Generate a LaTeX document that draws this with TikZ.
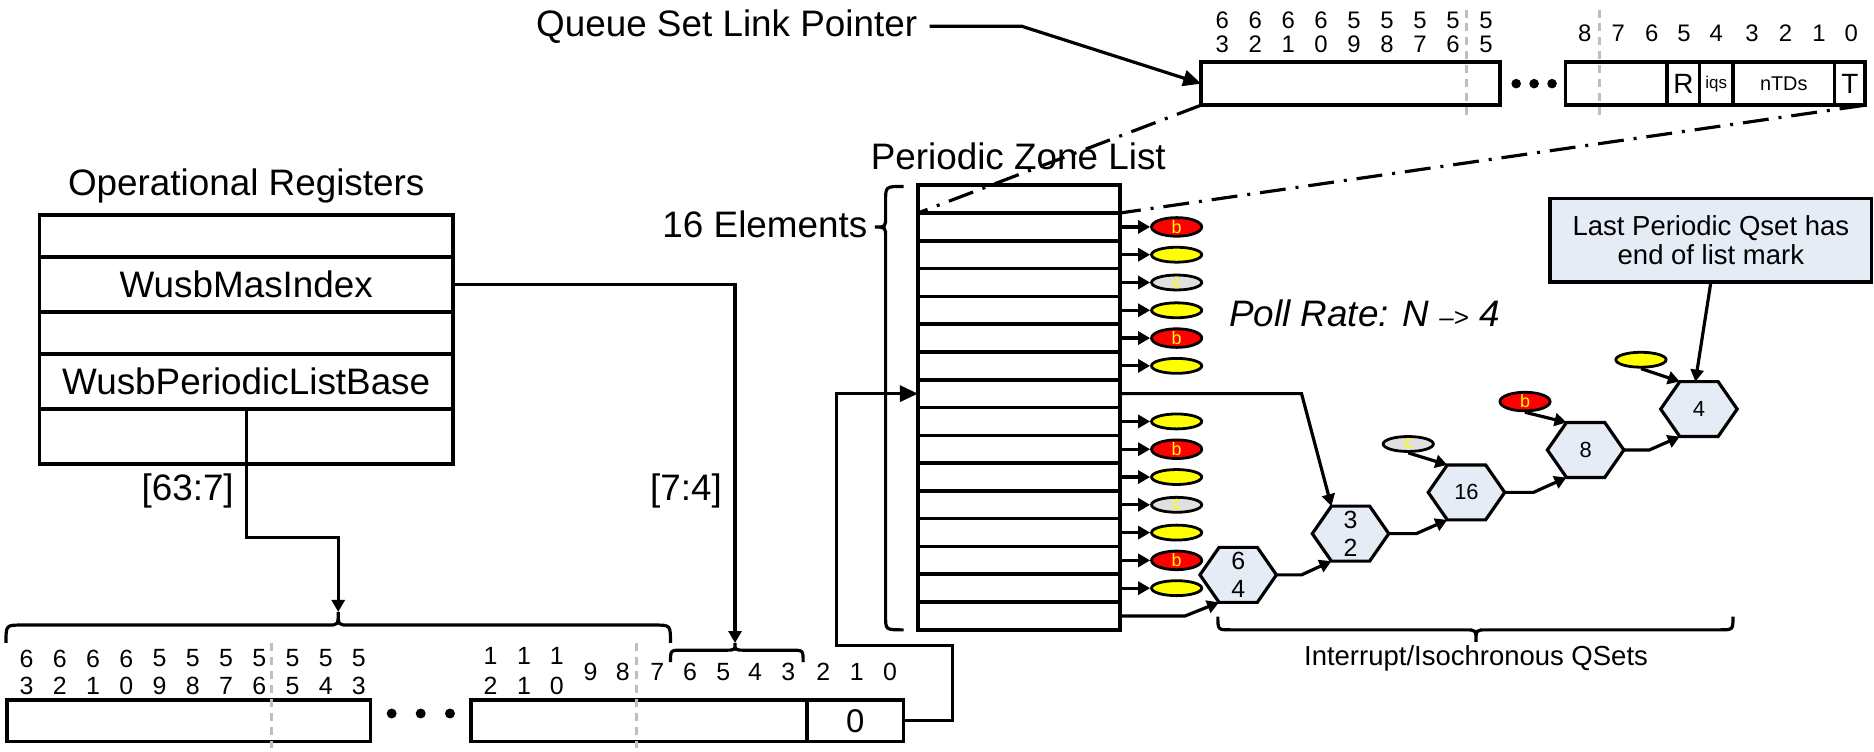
\documentclass[tikz,border=0pt]{standalone}
\usepackage{fontspec}
\setmainfont{Liberation Sans}
\usetikzlibrary{shapes.geometric,arrows.meta,calc}
\definecolor{hexblue}{RGB}{230,236,246}
\definecolor{ylw}{RGB}{255,255,0}
\definecolor{rd}{RGB}{255,0,0}
\definecolor{lgray}{RGB}{224,224,224}
\definecolor{dgray}{RGB}{190,190,190}
\newcommand\fsz[2]{\fontsize{#1}{#2}\selectfont}
\newcommand\hexa[5]{%
  \filldraw[hexst] ({#2-16},{#3-23}) -- ({#2+16},{#3-23}) -- ({#2+32},#3) -- ({#2+16},{#3+23}) -- ({#2-16},{#3+23}) -- ({#2-32},#3) -- cycle;
  \node[align=center, font=#5, inner sep=0pt] (#1) at (#2,#3) {#4};
  \coordinate (#1-l) at ({#2-32},#3);
  \coordinate (#1-r) at ({#2+32},#3);
  \coordinate (#1-tl) at ({#2-16},{#3-23});
  \coordinate (#1-bl) at ({#2-16},{#3+23});
  \coordinate (#1-t) at ({#2-3},{#3-23});
}
\begin{document}
\begin{tikzpicture}[x=0.6pt,y=-0.6pt,
  ln/.style={line width=1.6pt},
  bx/.style={draw, line width=1.8pt, inner sep=0pt, outer sep=0pt},
  arr/.style={line width=1.6pt, -{Triangle[length=6pt,width=6.5pt]}},
  bigarr/.style={line width=1.6pt, -{Triangle[length=9pt,width=8pt]}},
  lbl/.style={inner sep=0pt, font=\fsz{18.5}{21}},
  ell/.style={ellipse, draw, line width=1.4pt, minimum width=25.2pt, minimum height=7.5pt, inner sep=0pt, font=\fsz{9}{9}, text=ylw},
  ey/.style={ell, fill=ylw},
  eb/.style={ell, fill=rd},
  ec/.style={ell, fill=lgray},
  gdash/.style={draw=dgray, line width=1.4pt, dash pattern=on 4pt off 3pt},
  dashdot/.style={line width=1.6pt, dash pattern=on 13pt off 5pt on 1.5pt off 5pt},
  hexst/.style={fill=hexblue, draw, line width=1.6pt},
  bitt/.style={inner sep=0pt, font=\fsz{12}{12}},
  bitb/.style={inner sep=0pt, font=\fsz{12.5}{12.5}},
]
\useasboundingbox (0,0) rectangle (1568,629);

% ---------- Operational registers ----------
\node[lbl] (optitle) at (206,156) {Operational Registers};
\node[bx, minimum width=207.6pt, minimum height=21pt] (op0) at (206,197.5) {};
\node[bx, minimum width=207.6pt, minimum height=27.6pt, font=\fsz{18.5}{21}] (mas) at (206,238) {WusbMasIndex};
\node[bx, minimum width=207.6pt, minimum height=21pt] (op2) at (206,278.5) {};
\node[bx, minimum width=207.6pt, minimum height=27.6pt, font=\fsz{18.5}{21}] (plb) at (206,319) {WusbPeriodicListBase};
\node[bx, minimum width=207.6pt, minimum height=27.6pt] (op4) at (206,365) {};

\node[lbl] (l637) at (157,411) {[63:7]};
\node[lbl] (l74) at (574,411) {[7:4]};

% ---------- bottom address register ----------
\node[bx, minimum width=182.6pt, minimum height=20.9pt] (bb1) at (157.8,603.1) {};
\node[bx, minimum width=168.6pt, minimum height=20.9pt] (bb2) at (534.5,603.1) {};
\node[bx, minimum width=48.6pt, minimum height=20.9pt, font=\fsz{16.5}{16.5}] (zero) at (715.5,603.1) {0};
\foreach \x in {327.7,352,376.5} \fill (\x,597) circle (2.5pt);

\draw[gdash] (227.3,538) -- (227.3,626);
\draw[gdash] (532.7,538) -- (532.7,626);

\foreach \t [count=\k from 0] in {6,6,6,6,5,5,5,5,5,5,5}
  \node[bitb] at ({22.3+27.8*\k},551) {\t};
\foreach \t [count=\k from 0] in {3,2,1,0,9,8,7,6,5,4,3}
  \node[bitb] at ({22.3+27.8*\k},574) {\t};
\foreach \x/\a/\b in {410.5/1/2,438.4/1/1,465.8/1/0} {
  \node[bitb] at (\x,549) {\a};
  \node[bitb] at (\x,574) {\b};
}
\foreach \x/\t in {494.2/9,521/8,550/7,577.3/6,605.2/5,631.7/4,659.6/3,688.9/2,716.8/1,744.6/0}
  \node[bitb] at (\x,562) {\t};

% braces
\coordinate (bigtip) at (283,512);
\coordinate (smalltip) at (615,538);
\draw[ln] (5,538) .. controls (5,523) .. (18,523) -- (274,523) .. controls (283,523) .. (bigtip)
  .. controls (283,523) .. (292,523) -- (548,523) .. controls (561,523) .. (561,538);
\draw[ln] (561,554) .. controls (561,544) .. (571,544) -- (607,544) .. controls (615,544) .. (smalltip)
  .. controls (615,544) .. (623,544) -- (662,544) .. controls (672,544) .. (672,554);

\draw[arr] (plb.south) -- (206,450) -- (283,450) -- (bigtip);
\draw[arr] (mas.east) -- (615,238) -- (smalltip);

% ---------- Queue set link pointer ----------
\node[lbl, inner xsep=6pt] (qslp) at (608,22) {Queue Set Link Pointer};
\node[bx, minimum width=150pt, minimum height=21.6pt] (qhi) at (1130,70) {};
\draw[bigarr] (qslp.east) -- (855,22) -- (qhi.west);
\node[bx, minimum width=150.4pt, minimum height=21.6pt] (qlo) at (1435.3,70) {};
\node[bx, minimum width=16.2pt, minimum height=21.6pt, font=\fsz{14}{14}] (qR) at (1408.5,70) {R};
\node[bx, minimum width=16.8pt, minimum height=21.6pt, font=\fsz{8.5}{8.5}] (qiqs) at (1436,70) {iqs};
\node[bx, minimum width=51pt, minimum height=21.6pt, font=\fsz{10}{10}] (qntd) at (1492.5,70) {nTDs};
\node[bx, minimum width=15.4pt, minimum height=21.6pt, font=\fsz{14}{14}] (qT) at (1547.8,70) {T};
\foreach \x in {1268.6,1283.6,1298.6} \fill (\x,70) circle (2.4pt);

\draw[gdash] (1227,8) -- (1227,100);
\draw[gdash] (1338,8) -- (1338,100);
\foreach \t [count=\k from 0] in {6,6,6,6,5,5,5,5,5}
  \node[bitt] at ({1022.6+27.6*\k},17) {\t};
\foreach \t [count=\k from 0] in {3,2,1,0,9,8,7,6,5}
  \node[bitt] at ({1022.6+27.6*\k},37) {\t};
\foreach \x/\t in {1326/8,1354/7,1382/6,1409/5,1436/4,1466/3,1494/2,1522/1,1549/0}
  \node[bitt] at (\x,28) {\t};

% ---------- periodic zone list ----------
\node[lbl] (pztitle) at (852,131) {Periodic Zone List};
\foreach \i in {0,...,15}
  \node[bx, minimum width=101.4pt, minimum height=13.95pt] (pz\i) at (852.5,{166.625+23.25*\i}) {};
\node[lbl] (el16) at (640,188) {16 Elements};
\draw[ln] (756,156) .. controls (741,156) .. (741,168) -- (741,181) .. controls (741,190) .. (732,190)
  .. controls (741,190) .. (741,199) -- (741,516) .. controls (741,527) .. (756,527);

\draw[dashdot] (qhi.south west) -- (pz1.north west);
\draw[dashdot] (qlo.south east) -- (pz1.north east);

\foreach \i/\s/\t in {1/eb/b,2/ey/,3/ec/c,4/ey/,5/eb/b,6/ey/,8/ey/,9/eb/b,10/ey/,11/ec/c,12/ey/,13/eb/b,14/ey/} {
  \node[\s] (e\i) at (984.5,{166.625+23.25*\i}) {\t};
  \draw[arr] (pz\i.east) -- (e\i.west);
}

\draw[bigarr] (zero.east) -- (797,603.1) -- (797,540) -- (700,540) -- (700,329.375) -- (pz7.west);

\node[font=\fsz{18.5}{21}\itshape, anchor=west, inner sep=0pt] (poll) at (1028,262) {Poll Rate: N {\fsz{13}{13}–>} 4};

% ---------- QSets ----------
\hexa{h64}{1036}{481}{6\\4}{\fsz{12.5}{14}}
\hexa{h32}{1130}{446.5}{3\\2}{\fsz{12.5}{14}}
\hexa{h16}{1227}{412}{16}{\fsz{11}{11}}
\hexa{h8}{1326.7}{376.5}{8}{\fsz{11}{11}}
\hexa{h4}{1421.5}{342.3}{4}{\fsz{11}{11}}

\draw[arr] (pz15.east) -- (991.5,515.4) -- (h64-bl);
\draw[arr] (h64-r) -- (1089,481) -- (h32-bl);
\draw[arr] (pz7.east) -- (1089,329.375) -- (h32-tl);
\draw[arr] (h32-r) -- (1185,446.5) -- (h16-bl);
\draw[arr] (h16-r) -- (1283,412) -- (h8-bl);
\draw[arr] (h8-r) -- (1380,376.5) -- (h4-bl);

\node[ec] (ec16) at (1178.3,371.5) {c};
\draw[arr] (ec16.south) -- (h16-tl);
\node[eb] (eb8) at (1276,336) {b};
\draw[arr] (eb8.south) -- (h8-tl);
\node[ey] (ey4) at (1373,301) {};
\draw[arr] (ey4.south) -- (h4-tl);

\node[bx, fill=hexblue, minimum width=161.4pt, minimum height=42pt, align=center, font=\fsz{13.8}{14.4}] (last) at (1431.5,201) {Last Periodic Qset has\\end of list mark};
\draw[arr] (last.south) -- (h4-t);

\draw[ln] (1019,516) .. controls (1019,527) .. (1030,527) -- (1226,527) .. controls (1235,527) .. (1235,537)
  .. controls (1235,527) .. (1244,527) -- (1439,527) .. controls (1450,527) .. (1450,516);
\node[font=\fsz{13.8}{16}, inner sep=0pt] (qsets) at (1235,551) {Interrupt/Isochronous QSets};
\end{tikzpicture}
\end{document}
